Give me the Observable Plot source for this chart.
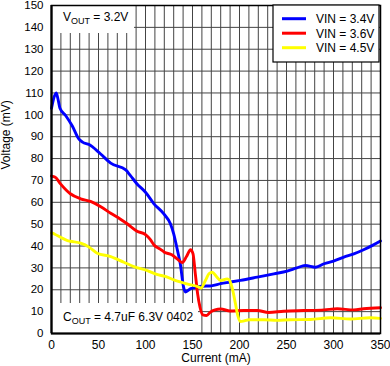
<!DOCTYPE html>
<html><head><meta charset="utf-8">
<script src="https://cdn.jsdelivr.net/npm/d3@7"></script>
<script src="https://cdn.jsdelivr.net/npm/@observablehq/plot@0.6"></script>
<style>
body{margin:0;background:#fff;}
svg{font-family:Arial,"Liberation Sans",sans-serif;}
</style></head><body><div id="chart"></div>
<script>
const seriesNames = ["VIN = 3.4V", "VIN = 3.6V", "VIN = 4.5V"];
const seriesColors = ["#0000ff", "#ff0000", "#ffff00"];

const vin34Current = [0,2,5,7,9,15,22,29,33,40,52,63,79,84,91,100,109,119.5,126.5,130,134,137,140.5,142.5,148,153,160,170,180,190,201,219,236.5,250.7,261,270,281,290,300,311,321.6,332,341,350];
const vin34Voltage = [103,107,110,107,103,99.7,95,89,87.5,86.4,82.2,77.9,74.8,72.2,68.4,64.6,59.3,54.7,50.2,45.6,38,31.9,21.2,19,20.5,21,21.6,21.8,22.8,23.5,24.3,25.8,27.3,28.5,30,31.1,30.3,31.9,33.1,34.9,36.4,38.3,40.2,42.3];

const vin36Current = [0,4,9.6,20,31,41.5,52,63,73,80.5,91,100,105,109,116,120,128,134,139,143.6,147.9,150.5,153,155.5,158,161,165,169,174,180,190,204.6,219,231,247,268.6,290,304,321.6,332,350];
const vin36Voltage = [72,71.5,68.4,63.9,61.6,60.4,58.1,55,52.4,50.2,46.8,45.2,43,40.5,38.5,37.2,36,34,32.5,35.2,38.3,36.5,27.3,18,12,8.5,8.2,9.8,10.8,11.2,10.3,10.5,10.5,9.6,10.2,10.5,10.8,11.3,10.8,11.3,11.8];

const vin45Current = [0,4,9.6,17,20,31,40,48.6,63,77,87.6,102,112,121,134,144,157,159,164,167.5,171,175,180,187,189,192,195.7,198,201,205,210,226,240,254,275.5,297,318,339,350];
const vin45Voltage = [46,45.3,44,42.5,42.2,41.3,39.5,36.7,35.2,32.6,30.6,28.8,27,26.1,23.9,22.7,21.2,20.8,24.5,27.3,28,26.3,24.2,25,24.5,21.2,13.6,8.5,5.5,5.8,6.3,6.3,6,6.3,6.4,7.2,6.6,7.2,6.9];

const xTicks = [0,50,100,150,200,250,300,350];
const yTicks = [0,10,20,30,40,50,60,70,80,90,100,110,120,130,140,150];
const xGrid = [10,20,30,40,50,60,70,80,90,100,110,120,130,140,150,160,170,180,190,200,210,220,230,240,250,260,270,280,290,300,310,320,330,340];
const yGrid = [10,20,30,40,50,60,70,80,90,100,110,120,130,140];

const xLabel = "Current (mA)";
const yLabel = "Voltage (mV)";

const currents = [vin34Current, vin36Current, vin45Current];
const voltages = [vin34Voltage, vin36Voltage, vin45Voltage];
const rows = seriesNames.flatMap((name, i) =>
  currents[i].map((c, j) => ({series: name, current: c, voltage: voltages[i][j]})));

const chart = Plot.plot({
  width: 390,
  height: 366,
  marginLeft: 51,
  marginRight: 10,
  marginTop: 5,
  marginBottom: 33,
  style: {fontFamily: "Arial, 'Liberation Sans', sans-serif", background: "#fff"},
  x: {domain: [0, 350]},
  y: {domain: [0, 150]},
  color: {domain: seriesNames, range: seriesColors},
  marks: [
    Plot.ruleX(xGrid, {stroke: "#444", strokeWidth: 1}),
    Plot.ruleY(yGrid, {stroke: "#444", strokeWidth: 1}),
    Plot.line(rows, {x: "current", y: "voltage", z: "series", stroke: "series", strokeWidth: 2.9, curve: "monotone-x"}),
    Plot.frame({stroke: "#000", strokeWidth: 1.5}),
    Plot.ruleX([0], {stroke: "#000", strokeWidth: 2.2}),
    Plot.ruleY([0], {stroke: "#000", strokeWidth: 2.2}),
    Plot.axisX(xTicks, {tickSize: 0, tickPadding: 7, fontSize: 12, label: null, fill: "#000"}),
    Plot.axisY(yTicks, {tickSize: 0, tickPadding: 8, fontSize: 11.5, label: null, fill: "#000"}),
    Plot.text([xLabel], {frameAnchor: "bottom", dy: 28.5, fontSize: 12, fill: "#000"}),
    Plot.text([yLabel], {frameAnchor: "left", dx: -45, rotate: -90, fontSize: 12, fill: "#000"})
  ]
});
document.getElementById("chart").appendChild(chart);

// annotations & legend overlay
const svg = d3.select(chart);
const [fx0, fx1] = chart.scale("x").range;
const [fyB, fyT] = chart.scale("y").range;
const lineNode = svg.select("g[aria-label='line']").node();

function addNote(g, x, y, main, sub, rest) {
  const t = g.append("text").attr("x", x).attr("y", y).attr("font-size", 12)
    .attr("fill", "#000").attr("text-anchor", "start");
  t.append("tspan").text(main);
  t.append("tspan").attr("font-size", 9).attr("dy", 3).text(sub);
  t.append("tspan").attr("dy", -3).text(rest);
}

const notes = svg.insert("g", () => lineNode);
notes.append("rect").attr("x", fx0).attr("y", fyT).attr("width", 83).attr("height", 28).attr("fill", "#fff");
notes.append("rect").attr("x", fx0).attr("y", fyB - 30).attr("width", 147).attr("height", 30).attr("fill", "#fff");
addNote(notes, fx0 + 12, fyT + 16, "V", "OUT", " = 3.2V");
addNote(notes, fx0 + 12, fyB - 12, "C", "OUT", " = 4.7uF 6.3V 0402");

const leg = svg.append("g");
const lx = fx1 - 107;
leg.append("rect").attr("x", lx).attr("y", fyT).attr("width", 106).attr("height", 57)
  .attr("fill", "#fff").attr("stroke", "#000").attr("stroke-width", 1.2);
seriesNames.forEach((name, i) => {
  const yy = fyT + 13.7 + i * 14.5;
  leg.append("line").attr("x1", lx + 9).attr("x2", lx + 33).attr("y1", yy).attr("y2", yy)
    .attr("stroke", seriesColors[i]).attr("stroke-width", 3);
  leg.append("text").attr("x", lx + 43).attr("y", yy + 4.3).attr("font-size", 12)
    .attr("fill", "#000").attr("text-anchor", "start").text(name);
});
</script></body></html>
